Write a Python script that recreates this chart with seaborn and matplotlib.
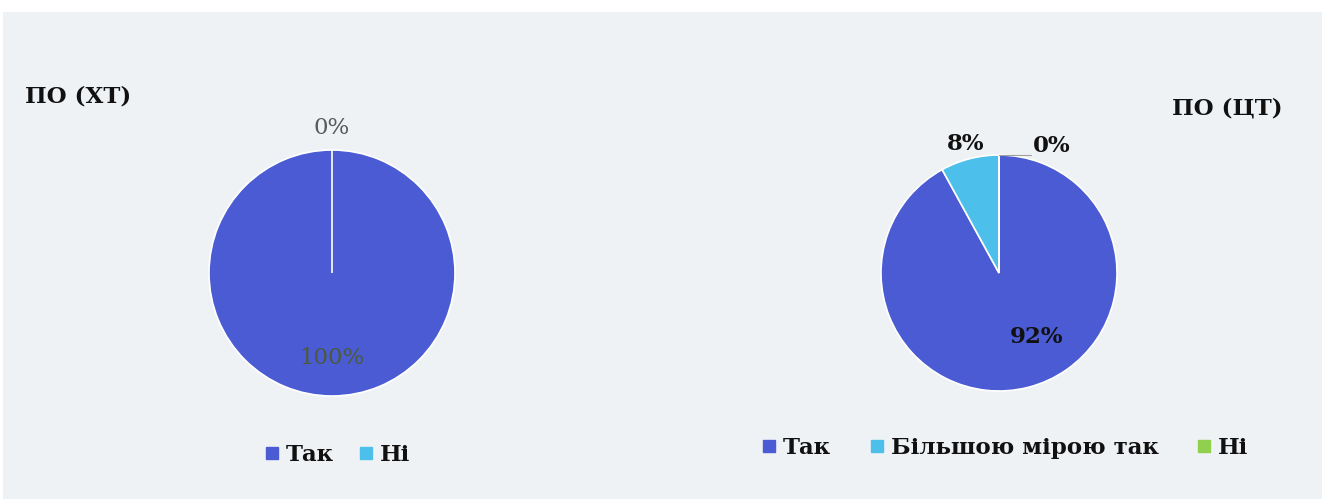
import numpy as np
import seaborn as sns
import matplotlib.pyplot as plt
from matplotlib.lines import Line2D
from matplotlib.patches import Rectangle

# data
xt_labels = ['Так', 'Ні']
xt_values = [100, 0]
ct_labels = ['Так', 'Більшою мірою так', 'Ні']
ct_values = [92, 8, 0]

xt_colors = ['#4a5bd3', '#4cc0ea']
ct_colors = ['#4a5bd3', '#4cc0ea', '#8fd14f']

W, H = 1322, 499


def px_axes(fig, cx, cy, half):
    # axes box in pixel coords, cy measured from top
    return fig.add_axes([(cx - half) / W, (H - cy - half) / H, 2 * half / W, 2 * half / H])


def main() -> None:
    sns.set_theme(style="white")
    plt.rcParams['font.family'] = ['DejaVu Serif']
    plt.rcParams['text.color'] = '#111111'

    fig = plt.figure(figsize=(W / 100, H / 100), dpi=100)
    fig.patch.set_facecolor('white')
    fig.patches.append(Rectangle((3 / W, 0), 1, (H - 12) / H, transform=fig.transFigure,
                                 facecolor='#eff2f5', edgecolor='none', zorder=-1))

    lim = 1.4
    fs = 16.5

    # left pie
    ax1 = px_axes(fig, 332, 273, 123 * lim)
    wedges, _ = ax1.pie(xt_values, colors=xt_colors, startangle=90, counterclock=False,
                        wedgeprops=dict(edgecolor='white', linewidth=1.2))
    ax1.set_xlim(-lim, lim)
    ax1.set_ylim(-lim, lim)
    ax1.set_aspect('equal')
    ax1.axis('off')
    # labels positioned from the wedge angles
    for w, v in zip(wedges, xt_values):
        ang = np.deg2rad((w.theta1 + w.theta2) / 2)
        d = 1.18 if v == 0 else 0.69
        col = '#5a5a5a' if v == 0 else '#4b5a3c'
        ax1.text(d * np.cos(ang), d * np.sin(ang), f'{v}%', ha='center', va='center',
                 fontsize=fs, color=col)
    fig.text(25 / W, 1 - 97 / H, 'ПО (ХТ)', fontsize=fs, fontweight='bold', va='center', ha='left')
    h1 = [Line2D([0], [0], marker='s', ls='', color=c, markersize=8) for c in xt_colors]
    fig.legend(h1, xt_labels, loc='center', bbox_to_anchor=(335 / W, 1 - 455 / H), ncol=2,
               frameon=False, prop={'size': fs, 'weight': 'bold'}, handletextpad=0.1,
               columnspacing=0.9, handlelength=1.0)

    # right pie
    ax2 = px_axes(fig, 999, 273, 118 * lim)
    wedges, _ = ax2.pie(ct_values, colors=ct_colors, startangle=90, counterclock=False,
                        wedgeprops=dict(edgecolor='white', linewidth=1.2))
    ax2.set_xlim(-lim, lim)
    ax2.set_ylim(-lim, lim)
    ax2.set_aspect('equal')
    ax2.axis('off')
    for w, v in zip(wedges, ct_values):
        ang = np.deg2rad((w.theta1 + w.theta2) / 2)
        x, y = np.cos(ang), np.sin(ang)
        if v == 0:
            ax2.plot([x * 1.0, x + 0.27], [y * 1.0, y * 1.0], color='#a0a0a0', lw=0.8)
            ax2.text(x + 0.45, y + 0.08, f'{v}%', ha='center', va='center', fontsize=fs,
                     fontweight='bold')
        elif v < 50:
            ax2.text(x * 1.15, y * 1.13, f'{v}%', ha='center', va='center', fontsize=fs,
                     fontweight='bold')
        else:
            ax2.text(x * 0.62 + 0.16, y * 0.56, f'{v}%', ha='center', va='center', fontsize=fs,
                     fontweight='bold')
    fig.text(1283 / W, 1 - 108 / H, 'ПО (ЦТ)', fontsize=fs, fontweight='bold', va='center', ha='right')
    h2 = [Line2D([0], [0], marker='s', ls='', color=c, markersize=8) for c in ct_colors]
    fig.legend(h2, ct_labels, loc='center', bbox_to_anchor=(1003 / W, 1 - 448 / H), ncol=3,
               frameon=False, prop={'size': fs, 'weight': 'bold'}, handletextpad=0.1,
               columnspacing=1.5, handlelength=1.0)

    fig.savefig('out.png', dpi=100, facecolor=fig.get_facecolor())


if __name__ == "__main__":
    main()
